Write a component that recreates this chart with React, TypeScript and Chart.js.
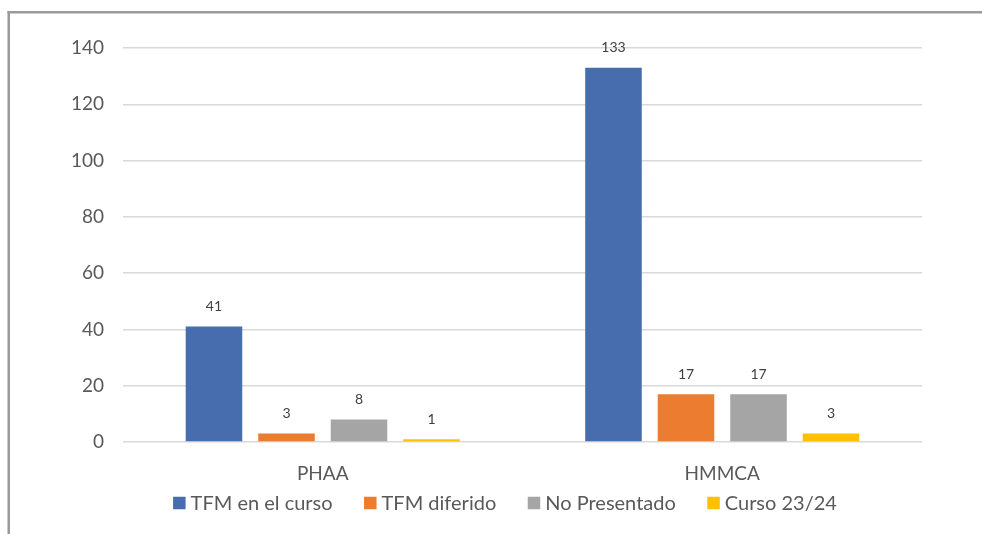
import React, { useEffect, useRef } from "react";
import { Chart, registerables } from "chart.js";

Chart.register(...registerables);

const categories = ["PHAA", "HMMCA"];
const seriesNames = ["TFM en el curso", "TFM diferido", "No Presentado", "Curso 23/24"];
const tfmEnCurso = [41, 133];
const tfmDiferido = [3, 17];
const noPresentado = [8, 17];
const curso2324 = [1, 3];
const seriesColors = ["#476DAF", "#EC7C30", "#A5A5A5", "#FFC000"];
const yTicks = [0, 20, 40, 60, 80, 100, 120, 140];

const FONT = "Lato, 'Open Sans', sans-serif";

const framePlugin = {
  id: "frame",
  beforeDraw(chart: any) {
    const ctx = chart.ctx;
    ctx.save();
    ctx.fillStyle = "#ffffff";
    ctx.fillRect(0, 0, chart.width, chart.height);
    ctx.fillStyle = "#9a9a9a";
    ctx.fillRect(7.5, 11, chart.width - 7.5, 2.5);
    ctx.fillRect(7.5, 11, 2.5, chart.height - 11);
    ctx.restore();
  },
};

const valueLabelPlugin = {
  id: "valueLabels",
  afterDatasetsDraw(chart: any) {
    const ctx = chart.ctx;
    ctx.save();
    ctx.font = `14px ${FONT}`;
    ctx.fillStyle = "#404040";
    ctx.textAlign = "center";
    ctx.textBaseline = "middle";
    chart.data.datasets.forEach((ds: any, i: number) => {
      const meta = chart.getDatasetMeta(i);
      meta.data.forEach((el: any, j: number) => {
        ctx.fillText(String(ds.data[j]), el.x, el.y - 20);
      });
    });
    ctx.restore();
  },
};

// Legend drawn from the datasets' own labels and colours
const legendPlugin = {
  id: "customLegend",
  afterDraw(chart: any) {
    const ctx = chart.ctx;
    ctx.save();
    ctx.font = `20px ${FONT}`;
    ctx.textBaseline = "middle";
    ctx.textAlign = "left";
    const box = 12.5;
    const textGap = 5;
    const itemGap = 31.5;
    const items = chart.data.datasets.map((ds: any) => ({
      text: ds.label,
      color: ds.backgroundColor,
      w: ctx.measureText(ds.label).width,
    }));
    const total =
      items.reduce((a: number, it: any) => a + box + textGap + it.w, 0) + itemGap * (items.length - 1);
    let x = 505 - total / 2;
    const cy = 503;
    items.forEach((it: any) => {
      ctx.fillStyle = it.color;
      ctx.fillRect(x, cy - box / 2, box, box);
      ctx.fillStyle = "#595959";
      ctx.fillText(it.text, x + box + textGap, cy + 1);
      x += box + textGap + it.w + itemGap;
    });
    ctx.restore();
  },
};

export default function App() {
  const ref = useRef<HTMLCanvasElement | null>(null);
  useEffect(() => {
    if (!ref.current) return;
    const seriesData = [tfmEnCurso, tfmDiferido, noPresentado, curso2324];
    const chart = new Chart(ref.current, {
      type: "bar",
      data: {
        labels: categories,
        datasets: seriesNames.map((name, i) => ({
          label: name,
          data: seriesData[i],
          backgroundColor: seriesColors[i],
          borderWidth: 0,
          categoryPercentage: 0.726,
          barPercentage: 0.78,
        })),
      },
      plugins: [framePlugin, valueLabelPlugin, legendPlugin],
      options: {
        animation: false,
        responsive: true,
        maintainAspectRatio: false,
        layout: { padding: { left: 28, right: 0, top: 48, bottom: 47 } },
        plugins: {
          tooltip: { enabled: false },
          legend: { display: false },
        },
        scales: {
          x: {
            grid: { display: false },
            border: { display: false },
            ticks: { color: "#595959", font: { family: FONT, size: 19 }, padding: 12 },
            afterFit: (s: any) => { s.height = 45; },
          },
          y: {
            min: 0,
            max: 140,
            afterBuildTicks: (s: any) => { s.ticks = yTicks.map((v) => ({ value: v })); },
            grid: { color: "#d9d9d9", lineWidth: 1.5, drawTicks: false },
            border: { display: false },
            ticks: { color: "#595959", font: { family: FONT, size: 19 }, padding: 19 },
            afterFit: (s: any) => { s.width = 95; },
          },
          yR: {
            position: "right",
            display: true,
            grid: { display: false },
            border: { display: false },
            ticks: { display: false },
            afterFit: (s: any) => { s.width = 60; },
          },
        },
      },
    });
    return () => chart.destroy();
  }, []);
  return (
    <div style={{ position: "absolute", left: 0, top: 0, width: 982, height: 534 }}>
      <canvas ref={ref} />
    </div>
  );
}
